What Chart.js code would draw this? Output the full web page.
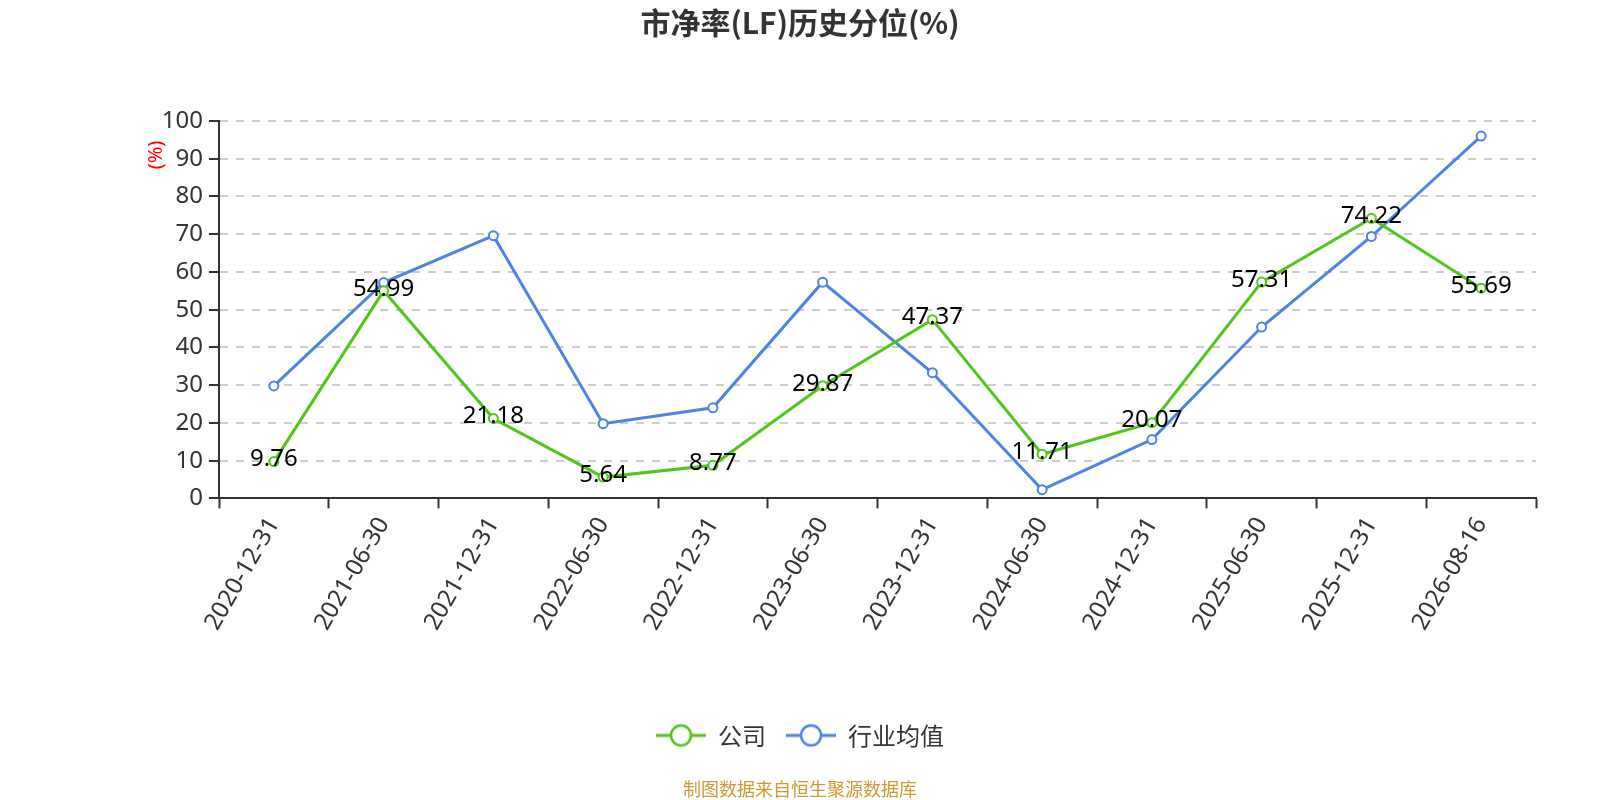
<!DOCTYPE html>
<html>
<head>
<meta charset="utf-8">
<script src="https://cdn.jsdelivr.net/npm/chart.js@4/dist/chart.umd.min.js"></script>
<style>
html,body{margin:0;padding:0;background:#fff;}
#wrap{width:1600px;height:800px;position:relative;}
</style>
</head>
<body>
<div id="wrap"><canvas id="c" width="1600" height="800"></canvas></div>
<script>
const categories = ['2020-12-31','2021-06-30','2021-12-31','2022-06-30','2022-12-31','2023-06-30','2023-12-31','2024-06-30','2024-12-31','2025-06-30','2025-12-31','2026-08-16'];
const companyValues = [9.76, 54.99, 21.18, 5.64, 8.77, 29.87, 47.37, 11.71, 20.07, 57.31, 74.22, 55.69];
const industryValues = [29.8, 57.2, 69.6, 19.8, 24.0, 57.3, 33.3, 2.3, 15.6, 45.4, 69.4, 96.0];
const seriesNames = ['公司', '行业均值'];
const yMin = 0, yMax = 100, yStep = 10;
const titleText = '市净率(LF)历史分位(%)';
const yUnitText = '(%)';
const footerText = '制图数据来自恒生聚源数据库';

const GREEN = '#52c41a';
const BLUE = '#4d83e3';
const FONT = "'Noto Sans CJK SC','Noto Sans',sans-serif";
const LFONT = "'Noto Sans','Noto Sans CJK SC',sans-serif";

function makeIcon(color){
  const c = document.createElement('canvas');
  c.width = 50; c.height = 26;
  const g = c.getContext('2d');
  g.strokeStyle = color; g.lineWidth = 3;
  g.beginPath(); g.moveTo(0,13); g.lineTo(50,13); g.stroke();
  g.beginPath(); g.arc(25,13,10,0,Math.PI*2);
  g.fillStyle = '#fff'; g.fill();
  g.lineWidth = 2.5; g.stroke();
  return c;
}

const dataLabelPlugin = {
  id: 'dataLabels',
  afterDatasetsDraw(chart){
    const ctx = chart.ctx;
    const meta = chart.getDatasetMeta(0);
    ctx.save();
    ctx.font = '24px ' + LFONT;
    ctx.fillStyle = '#000';
    ctx.textAlign = 'center';
    ctx.textBaseline = 'middle';
    meta.data.forEach((pt, i) => {
      ctx.fillText(companyValues[i].toFixed(2), pt.x, pt.y - 2);
    });
    ctx.restore();
  }
};

const unitPlugin = {
  id: 'unitLabel',
  afterDraw(chart){
    const ys = chart.scales.y;
    const ctx = chart.ctx;
    ctx.save();
    ctx.font = '20px ' + LFONT;
    ctx.fillStyle = '#ff0000';
    ctx.textAlign = 'center';
    ctx.textBaseline = 'middle';
    ctx.translate(ys.right - 63, ys.getPixelForValue(91));
    ctx.rotate(-Math.PI/2);
    ctx.fillText(yUnitText, 0, 0);
    ctx.restore();
  }
};

new Chart(document.getElementById('c'), {
  type: 'line',
  data: {
    labels: categories,
    datasets: [
      {
        label: seriesNames[0], data: companyValues,
        borderColor: GREEN, backgroundColor: '#fff',
        borderWidth: 3, pointRadius: 4.5, pointBorderWidth: 2,
        pointBackgroundColor: '#fff', pointBorderColor: GREEN,
        tension: 0, order: 1
      },
      {
        label: seriesNames[1], data: industryValues,
        borderColor: BLUE, backgroundColor: '#fff',
        borderWidth: 3, pointRadius: 4.5, pointBorderWidth: 2,
        pointBackgroundColor: '#fff', pointBorderColor: BLUE,
        tension: 0, order: 2
      }
    ]
  },
  options: {
    responsive: false,
    animation: false,
    events: [],
    layout: { padding: { left: 64, right: 64, top: 0, bottom: 0 } },
    plugins: {
      title: {
        display: true, text: titleText, color: '#333',
        font: { family: FONT, size: 30, weight: 'bold' },
        padding: { top: 5, bottom: 80 }
      },
      subtitle: {
        display: true, position: 'bottom', text: footerText, color: '#cc9933',
        font: { family: FONT, size: 18 },
        padding: { top: 21, bottom: 0 }
      },
      legend: {
        display: true, position: 'bottom',
        labels: {
          usePointStyle: true, pointStyleWidth: 50, boxHeight: 24,
          color: '#333', font: { family: FONT, size: 24 }, padding: 20,
          generateLabels(chart){
            return chart.data.datasets.map((ds, i) => ({
              text: ds.label, pointStyle: makeIcon(ds.borderColor),
              fillStyle: '#fff', strokeStyle: ds.borderColor, lineWidth: 0,
              fontColor: '#333', datasetIndex: i, hidden: false
            }));
          }
        }
      },
      tooltip: { enabled: false }
    },
    scales: {
      x: {
        offset: true,
        grid: { display: true, drawOnChartArea: false, drawTicks: true, tickLength: 10, tickColor: '#333', tickWidth: 2, offset: true },
        border: { display: true, color: '#333', width: 2 },
        ticks: { color: '#333', font: { family: LFONT, size: 24 }, minRotation: 60, maxRotation: 60, autoSkip: false, padding: 4 },
        afterFit(s){ s.height = 205; }
      },
      y: {
        min: yMin, max: yMax,
        grid: { display: true, color: '#cccccc', lineWidth: 2, drawTicks: true, tickLength: 10, tickColor: '#333', tickWidth: 2, tickBorderDash: [] },
        border: { display: true, color: '#333', width: 2, dash: [8, 8] },
        ticks: { stepSize: yStep, color: '#333', font: { family: LFONT, size: 24 }, padding: 6 },
        afterFit(s){ s.width = 155; }
      }
    }
  },
  plugins: [dataLabelPlugin, unitPlugin]
});
</script>
</body>
</html>
